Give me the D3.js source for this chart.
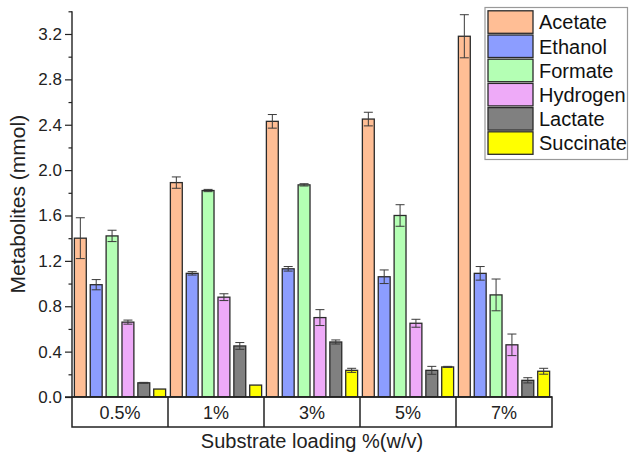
<!DOCTYPE html>
<html>
<head>
<meta charset="utf-8">
<script src="https://cdn.jsdelivr.net/npm/d3@7"></script>
<style>
  html, body { margin: 0; padding: 0; background: #ffffff; }
  svg { display: block; font-family: Arial, "Liberation Sans", sans-serif; }
</style>
</head>
<body>
<svg id="chart" width="629" height="458"></svg>
<script>
// ---- Data ----
const categories = ["0.5%", "1%", "3%", "5%", "7%"];
const seriesNames = ["Acetate", "Ethanol", "Formate", "Hydrogen", "Lactate", "Succinate"];
const acetate      = [1.40, 1.89, 2.43, 2.45, 3.18];
const acetateErr   = [0.18, 0.05, 0.06, 0.06, 0.19];
const ethanol      = [0.99, 1.09, 1.13, 1.06, 1.09];
const ethanolErr   = [0.045, 0.015, 0.02, 0.06, 0.06];
const formate      = [1.42, 1.82, 1.87, 1.60, 0.90];
const formateErr   = [0.05, 0.01, 0.01, 0.095, 0.14];
const hydrogen     = [0.66, 0.88, 0.70, 0.65, 0.46];
const hydrogenErr  = [0.018, 0.03, 0.07, 0.035, 0.095];
const lactate      = [0.125, 0.45, 0.485, 0.235, 0.147];
const lactateErr   = [0.004, 0.03, 0.018, 0.035, 0.023];
const succinate    = [0.07, 0.105, 0.235, 0.265, 0.227];
const succinateErr = [0, 0, 0.018, 0.005, 0.026];
const majorTicks = [0.0, 0.4, 0.8, 1.2, 1.6, 2.0, 2.4, 2.8, 3.2];
const minorTicks = [0.2, 0.6, 1.0, 1.4, 1.8, 2.2, 2.6, 3.0, 3.4];
const colors = ["#ffbe95", "#8c9dff", "#b4ffb4", "#eeaaf8", "#808080", "#ffff00"];

const seriesValues = [acetate, ethanol, formate, hydrogen, lactate, succinate];
const seriesErrors = [acetateErr, ethanolErr, formateErr, hydrogenErr, lactateErr, succinateErr];

// ---- Layout ----
const svg = d3.select("#chart");
const left = 72, right = 552, baseY = 397, topY = 11.3, tableH = 30;

const x = d3.scaleBand().domain(categories).range([left, right]).paddingInner(0).paddingOuter(0);
const xs = d3.scaleBand().domain(seriesNames).range([0, x.bandwidth()]).paddingInner(0.25).paddingOuter(0.15);
const y = d3.scaleLinear().domain([0, 3.4]).range([baseY, topY]);

// Bars
const rows = [];
categories.forEach((c, ci) => {
  seriesNames.forEach((s, si) => {
    rows.push({ cat: c, s: s, si: si, v: seriesValues[si][ci], e: seriesErrors[si][ci] });
  });
});

const g = svg.append("g");
g.selectAll("rect.bar").data(rows).enter().append("rect")
  .attr("class", "bar")
  .attr("x", d => x(d.cat) + xs(d.s))
  .attr("y", d => y(d.v))
  .attr("width", xs.bandwidth())
  .attr("height", d => baseY - y(d.v))
  .attr("fill", d => colors[d.si])
  .attr("stroke", "#2a2a2a")
  .attr("stroke-width", 1.3);

// Error bars
const eb = g.selectAll("g.err").data(rows.filter(d => d.e > 0)).enter().append("g")
  .attr("class", "err")
  .attr("stroke", "#3a3a3a")
  .attr("stroke-width", 1);
const cx = d => x(d.cat) + xs(d.s) + xs.bandwidth() / 2;
const capW = 4.5;
eb.append("line").attr("x1", cx).attr("x2", cx)
  .attr("y1", d => y(d.v + d.e)).attr("y2", d => y(d.v - d.e));
eb.append("line").attr("x1", d => cx(d) - capW).attr("x2", d => cx(d) + capW)
  .attr("y1", d => y(d.v + d.e)).attr("y2", d => y(d.v + d.e));
eb.append("line").attr("x1", d => cx(d) - capW).attr("x2", d => cx(d) + capW)
  .attr("y1", d => y(d.v - d.e)).attr("y2", d => y(d.v - d.e));

// Y axis (major)
const yAxis = d3.axisLeft(y).tickValues(majorTicks).tickFormat(d3.format(".1f")).tickSize(7).tickPadding(3);
const ya = svg.append("g").attr("transform", `translate(${left},0)`).call(yAxis);
ya.select(".domain").attr("stroke", "#222").attr("stroke-width", 1.4).attr("d", `M0,${topY}V${baseY}`);
ya.selectAll(".tick line").attr("stroke", "#222").attr("stroke-width", 1.2);
ya.selectAll(".tick text").attr("font-size", 17).attr("fill", "#222")
  .attr("font-family", "Arial, 'Liberation Sans', sans-serif");

// Y axis (minor)
const yMinor = d3.axisLeft(y).tickValues(minorTicks).tickFormat("").tickSize(3.5);
const ym = svg.append("g").attr("transform", `translate(${left},0)`).call(yMinor);
ym.select(".domain").remove();
ym.selectAll(".tick line").attr("stroke", "#222").attr("stroke-width", 1.2);

// Category table
const table = svg.append("g");
table.append("rect")
  .attr("x", left).attr("y", baseY).attr("width", right - left).attr("height", tableH)
  .attr("fill", "#fff").attr("stroke", "#222").attr("stroke-width", 1.5);
table.selectAll("line.div").data(categories.slice(1)).enter().append("line")
  .attr("x1", d => x(d)).attr("x2", d => x(d))
  .attr("y1", baseY).attr("y2", baseY + tableH)
  .attr("stroke", "#222").attr("stroke-width", 1.5);
table.selectAll("text").data(categories).enter().append("text")
  .attr("x", d => x(d) + x.bandwidth() / 2)
  .attr("y", baseY + tableH / 2 + 6.5)
  .attr("text-anchor", "middle")
  .attr("font-size", 18).attr("fill", "#222")
  .text(d => d);
// Baseline extends to 0 tick
svg.append("line").attr("x1", left - 7).attr("x2", right).attr("y1", baseY).attr("y2", baseY)
  .attr("stroke", "#222").attr("stroke-width", 1.5);

// Axis titles
svg.append("text")
  .attr("transform", `translate(25,${(topY + baseY) / 2}) rotate(-90)`)
  .attr("text-anchor", "middle")
  .attr("font-size", 21).attr("fill", "#222")
  .text("Metabolites (mmol)");
svg.append("text")
  .attr("x", (left + right) / 2).attr("y", 448)
  .attr("text-anchor", "middle")
  .attr("font-size", 20).attr("fill", "#222")
  .text("Substrate loading %(w/v)");

// Legend
const lg = svg.append("g");
lg.append("rect").attr("x", 485).attr("y", 7.5).attr("width", 142.5).attr("height", 152)
  .attr("fill", "#fff").attr("stroke", "#999").attr("stroke-width", 1.2);
const li = lg.selectAll("g.item").data(seriesNames).enter().append("g")
  .attr("transform", (d, i) => `translate(488,${10.8 + i * 24.2})`);
li.append("rect").attr("width", 45).attr("height", 22.5)
  .attr("fill", (d, i) => colors[i]).attr("stroke", "#2a2a2a").attr("stroke-width", 1.3);
li.append("text").attr("x", 51).attr("y", 18.5)
  .attr("font-size", 20).attr("fill", "#111")
  .text(d => d);
</script>
</body>
</html>
